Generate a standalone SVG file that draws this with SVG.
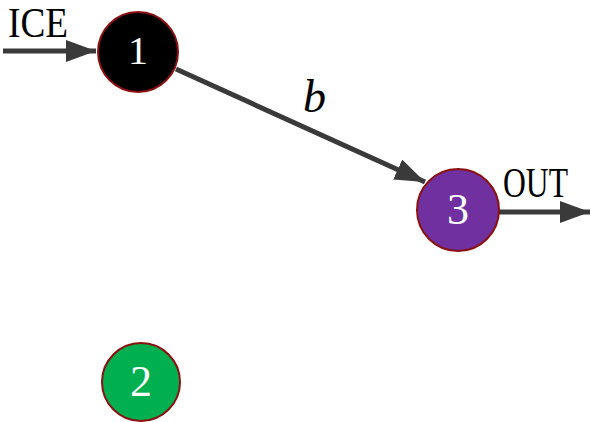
<svg xmlns="http://www.w3.org/2000/svg" width="591" height="422" viewBox="0 0 591 422">
<style>
.edge{stroke:#3a3a3a;stroke-width:5;fill:none}
.node{stroke:#8b1010;stroke-width:2}
.lbl{font-family:"Liberation Serif",serif;fill:#fff;text-anchor:middle}
.txt{font-family:"Liberation Serif",serif;fill:#000}
</style>
<defs>
<marker id="ah" markerWidth="6" markerHeight="4.4" refX="6" refY="2.2" orient="auto" markerUnits="strokeWidth">
<path d="M0,0 L6,2.2 L0,4.4 z" fill="#3a3a3a"/>
</marker>
</defs>
<g id="connectors">
<line class="edge" x1="3" y1="51" x2="96" y2="51" marker-end="url(#ah)"/>
<line class="edge" x1="176" y1="69" x2="425" y2="182" marker-end="url(#ah)"/>
<line class="edge" x1="499" y1="212" x2="590" y2="212" marker-end="url(#ah)"/>
<text class="txt" x="8" y="37" font-size="42" textLength="60" lengthAdjust="spacingAndGlyphs">ICE</text>
<text class="txt" x="503" y="197" font-size="42" textLength="65" lengthAdjust="spacingAndGlyphs">OUT</text>
<text class="txt" x="303" y="112" font-size="46" font-style="italic">b</text>
</g>
<g id="node1">
<circle class="node" cx="138" cy="52" r="40" fill="#000"/>
<text class="lbl" x="138" y="64" font-size="40">1</text>
</g>
<g id="node2">
<circle class="node" cx="141" cy="382" r="39" fill="#00b050"/>
<text class="lbl" x="141" y="396" font-size="44">2</text>
</g>
<g id="node3">
<circle class="node" cx="458" cy="210" r="41" fill="#7030a0"/>
<text class="lbl" x="458" y="224" font-size="44">3</text>
</g>
</svg>
